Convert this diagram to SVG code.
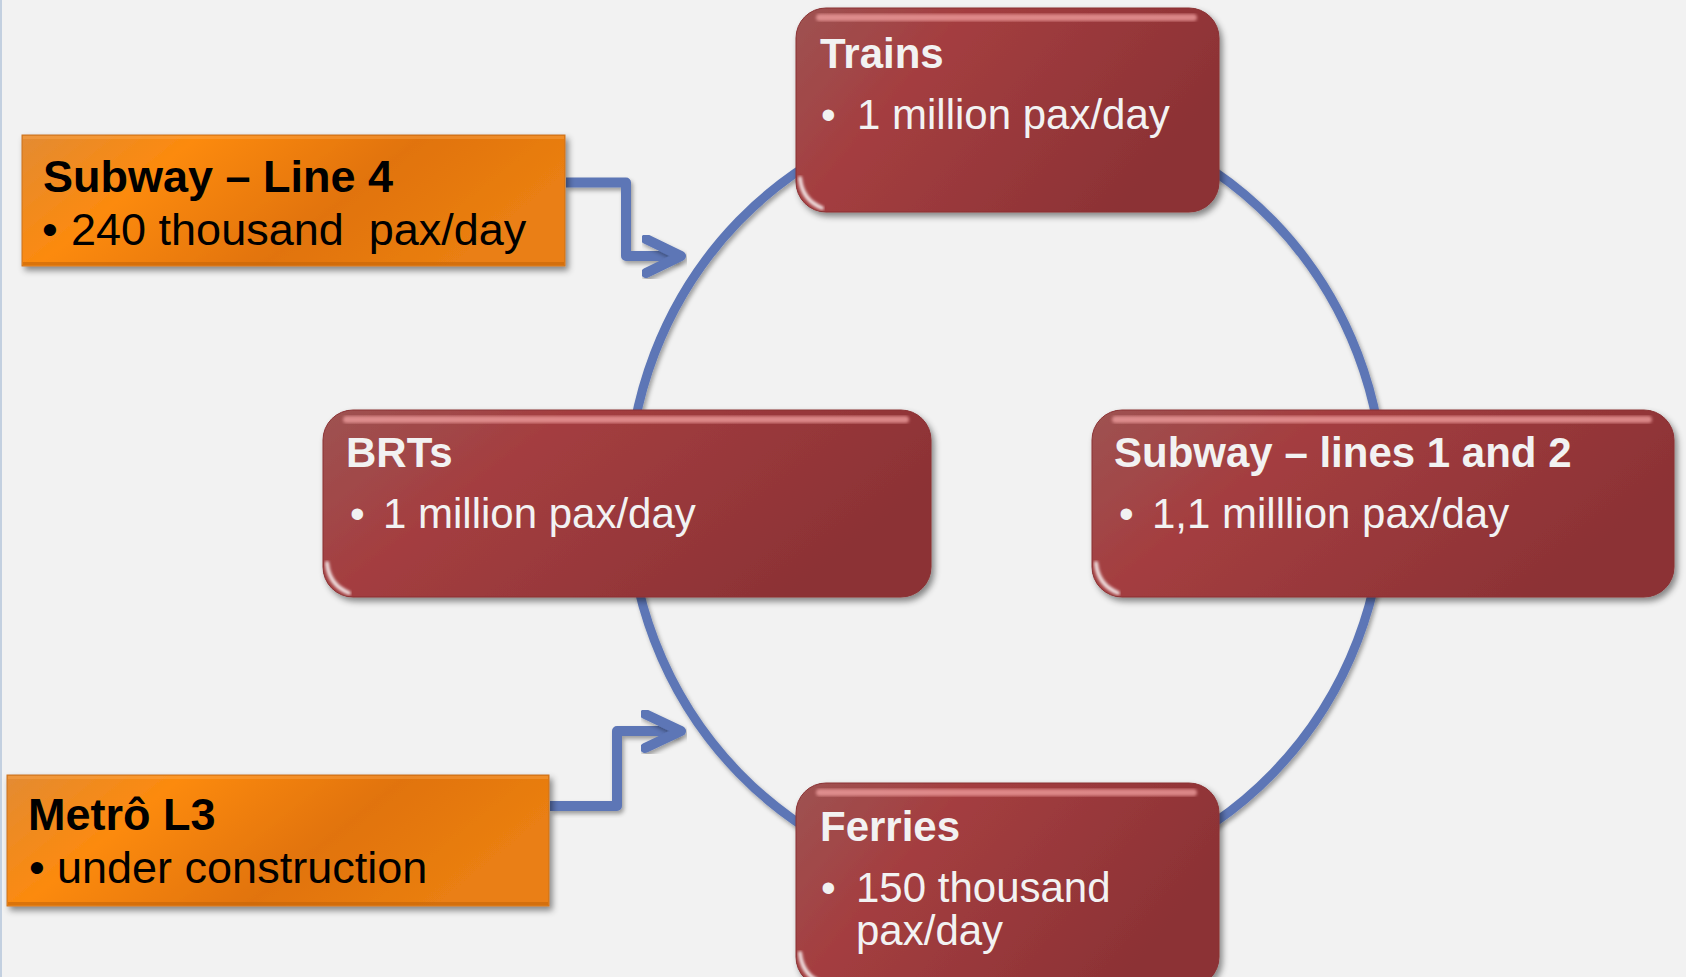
<svg xmlns="http://www.w3.org/2000/svg" width="1686" height="977" viewBox="0 0 1686 977">
<defs>
<linearGradient id="redGrad" x1="0" y1="0" x2="1" y2="0.4">
<stop offset="0" stop-color="#9e5352"/>
<stop offset="0.35" stop-color="#a43e40"/>
<stop offset="1" stop-color="#8c3235"/>
</linearGradient>
<linearGradient id="orangeGrad" x1="0" y1="0" x2="1" y2="0.3">
<stop offset="0" stop-color="#e38b33"/>
<stop offset="0.3" stop-color="#fc8a0e"/>
<stop offset="0.68" stop-color="#e1730a"/>
<stop offset="1" stop-color="#ea7f12"/>
</linearGradient>
<filter id="shadow" x="-10%" y="-10%" width="125%" height="130%">
<feDropShadow dx="3" dy="4" stdDeviation="3" flood-color="#000" flood-opacity="0.45"/>
</filter>
<filter id="lshadow" x="-10%" y="-10%" width="125%" height="125%">
<feDropShadow dx="2" dy="3" stdDeviation="2" flood-color="#000" flood-opacity="0.35"/>
</filter>
<filter id="blur2"><feGaussianBlur stdDeviation="1.6"/></filter>
<style>
.rbox{fill:url(#redGrad);stroke:#8a3133;stroke-width:1;filter:url(#shadow)}
.gloss{fill:#f3a2a2;opacity:0.75;filter:url(#blur2)}
.glint{fill:none;stroke:#ffffff;stroke-width:4;stroke-linecap:round;opacity:0.85;filter:url(#blur2)}
.rim{fill:none;stroke:#e8c8c8;stroke-width:2.5;opacity:0.55;filter:url(#blur2)}
.obox{fill:url(#orangeGrad);stroke:#c9731f;stroke-width:1;filter:url(#shadow)}
.obot{fill:#c46408;opacity:0.6}
.otop{fill:#ffb05a;opacity:0.35}
.rt{font-family:"Liberation Sans",Arial,sans-serif;font-size:42px;fill:#f2f2f2}
.ot{font-family:"Liberation Sans",Arial,sans-serif;font-size:45px;fill:#000;white-space:pre}
.b{font-weight:bold}
.conn{fill:none;stroke:#5d76b6;stroke-width:10;stroke-linejoin:round;stroke-linecap:round;filter:url(#lshadow)}
.cyc{fill:none;stroke:#5d76b6;stroke-width:9;filter:url(#lshadow)}
</style>
</defs>
<rect x="0" y="0" width="1686" height="977" fill="#f2f2f2"/>
<rect x="0" y="0" width="2" height="977" fill="#c3d0e0"/>

<g id="connectors">
<ellipse class="cyc" cx="1006" cy="497" rx="378" ry="390"/>
<path class="conn" d="M566,182.5 H626 V256 H678" style="stroke-linecap:butt"/>
<path class="conn" d="M646,239 L681,256 L646,273"/>
<path class="conn" d="M550,806 H617 V731 H678" style="stroke-linecap:butt"/>
<path class="conn" d="M645,714 L681,731 L645,748"/>
</g>

<g id="trains">
<rect class="rbox" x="796" y="8" width="423" height="204" rx="30"/>
<rect class="gloss" x="816" y="14" width="381" height="7" rx="3.5"/>
<path class="rim" d="M1214,38 V182"/>
<path class="glint" d="M800,178 Q802,200 822,208"/>
<text class="rt b" x="820" y="68">Trains</text>
<text class="rt" y="129"><tspan x="821">•</tspan><tspan x="857">1 million pax/day</tspan></text>
</g>

<g id="brts">
<rect class="rbox" x="323" y="410" width="608" height="187" rx="30"/>
<rect class="gloss" x="343" y="416" width="566" height="7" rx="3.5"/>
<path class="rim" d="M926,440 V567"/>
<path class="glint" d="M327,563 Q329,585 349,593"/>
<text class="rt b" x="346" y="467">BRTs</text>
<text class="rt" y="528"><tspan x="350">•</tspan><tspan x="383">1 million pax/day</tspan></text>
</g>

<g id="subway12">
<rect class="rbox" x="1092" y="410" width="582" height="187" rx="30"/>
<rect class="gloss" x="1112" y="416" width="540" height="7" rx="3.5"/>
<path class="rim" d="M1669,440 V567"/>
<path class="glint" d="M1096,563 Q1098,585 1118,593"/>
<text class="rt b" x="1114" y="467">Subway – lines 1 and 2</text>
<text class="rt" y="528"><tspan x="1119">•</tspan><tspan x="1152">1,1 milllion pax/day</tspan></text>
</g>

<g id="ferries">
<rect class="rbox" x="796" y="783" width="423" height="204" rx="30"/>
<rect class="gloss" x="816" y="789" width="381" height="7" rx="3.5"/>
<path class="rim" d="M1214,813 V977"/>
<path class="glint" d="M800,953 Q802,975 822,983"/>
<text class="rt b" x="820" y="841">Ferries</text>
<text class="rt" y="902"><tspan x="821">•</tspan><tspan x="856">150 thousand</tspan></text>
<text class="rt" x="856" y="945">pax/day</text>
</g>

<g id="subway4">
<rect class="obox" x="22" y="135" width="543" height="131"/>
<rect class="otop" x="23" y="136" width="541" height="3"/>
<rect class="obot" x="23" y="262" width="541" height="3"/>
<text class="ot b" x="43" y="192">Subway – Line 4</text>
<text class="ot" y="245" xml:space="preserve"><tspan x="42">•</tspan><tspan x="71">240 thousand  pax/day</tspan></text>
</g>

<g id="metro3">
<rect class="obox" x="7" y="775" width="542" height="131"/>
<rect class="otop" x="8" y="776" width="540" height="3"/>
<rect class="obot" x="8" y="902" width="540" height="3"/>
<text class="ot b" x="28" y="830">Metrô L3</text>
<text class="ot" y="883"><tspan x="29">•</tspan><tspan x="57">under construction</tspan></text>
</g>
</svg>
